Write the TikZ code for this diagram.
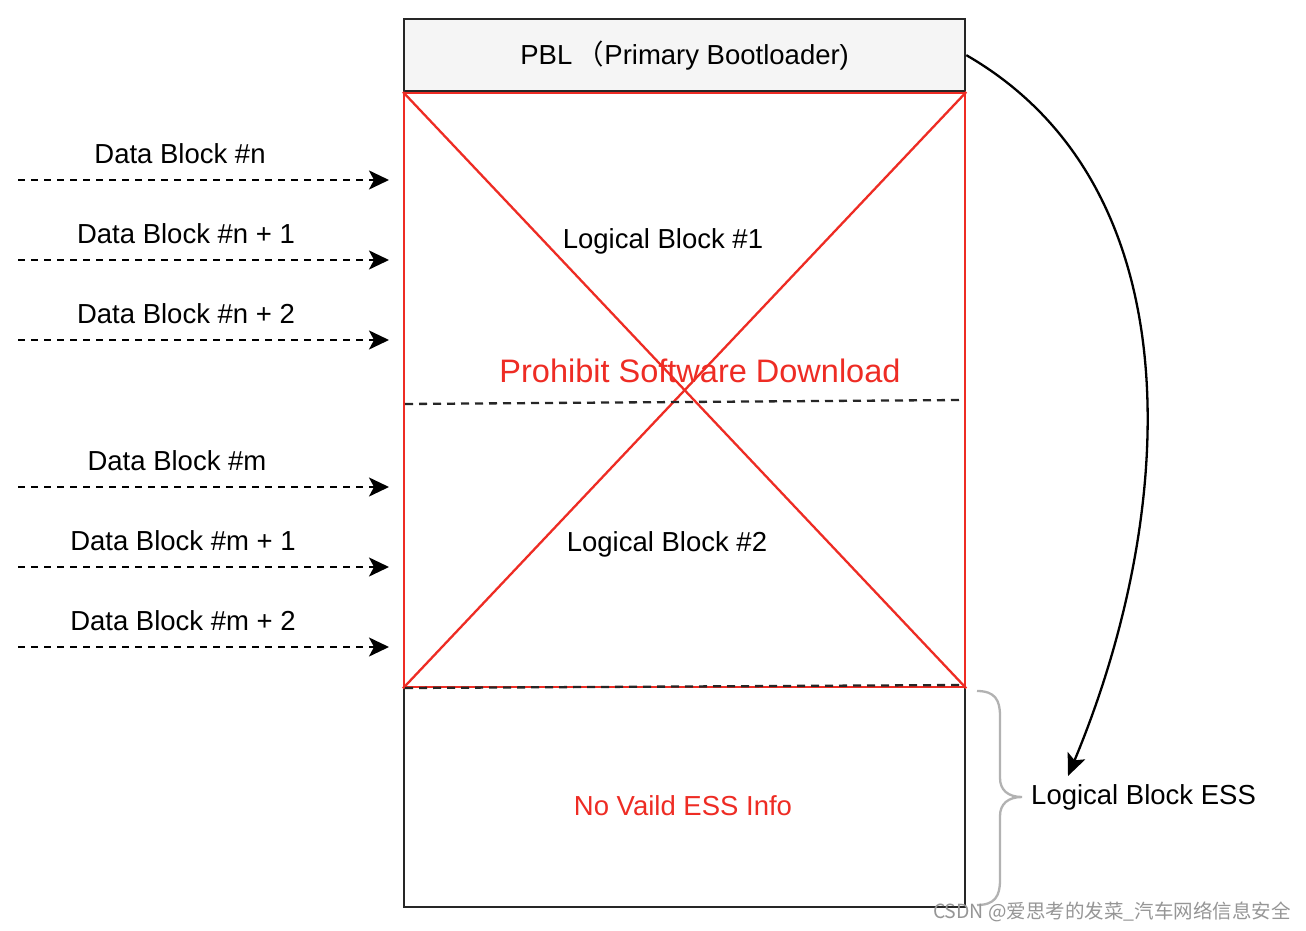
\documentclass[tikz,border=0pt]{standalone}
\usepackage{fontspec}
\setmainfont{Liberation Sans}
\newfontfamily\cjk{Noto Sans CJK SC}
\usetikzlibrary{arrows.meta}
\definecolor{xred}{RGB}{238,44,36}
\definecolor{pblfill}{RGB}{245,245,245}
\definecolor{bracegray}{RGB}{178,178,178}
\definecolor{wmgray}{RGB}{150,150,150}
\tikzset{
  lbl/.style={inner sep=0pt, font=\fontsize{27.5}{33}\selectfont},
  redlbl/.style={lbl, text=xred},
  blockline/.style={line width=2.3pt, draw=black!85},
  redline/.style={line width=2.3pt, draw=xred},
  sepline/.style={line width=2.3pt, draw=black!85, dash pattern=on 8pt off 6pt},
  feed/.style={line width=2.3pt, draw=black, dash pattern=on 7pt off 6pt,
    -{Stealth[length=20pt,width=19pt,inset=5pt]}},
  jump/.style={line width=2.3pt, draw=black,
    -{Stealth[length=22pt,width=19pt,inset=5pt]}},
}
\begin{document}
\begin{tikzpicture}[x=1pt,y=-1pt]
\useasboundingbox (0,0) rectangle (1306,931);
\fill[white] (0,0) rectangle (1306,931);

% memory layout: outer frame, PBL header, prohibited area
\node[blockline, minimum width=561pt, minimum height=888pt, anchor=north west, inner sep=0pt] (mem) at (403,18) {};
\node[blockline, fill=pblfill, minimum width=561pt, minimum height=72pt, anchor=north west, inner sep=0pt,
      font=\fontsize{27.5}{33}\selectfont] (pbl) at (403,18) {PBL\,{\cjk （}Primary Bootloader)};
\node[redline, minimum width=561pt, minimum height=594pt, anchor=north west, inner sep=0pt] (lock) at (403,92) {};
\draw[redline] (lock.north west) -- (lock.south east);
\draw[redline] (lock.south west) -- (lock.north east);

% block separators
\coordinate (s1l) at (405,404); \coordinate (s1r) at (962,400);
\coordinate (s2l) at (405,688); \coordinate (s2r) at (962,685);
\draw[sepline] (s1l) -- (s1r);
\draw[sepline] (s2l) -- (s2r);

\node[lbl] (lb1) at (663,241) {Logical Block \#1};
\node[lbl] (lb2) at (667,544) {Logical Block \#2};
\node[inner sep=0pt, text=xred, font=\fontsize{32.5}{38}\selectfont] (proh) at (700,371) {Prohibit Software Download};
\node[redlbl] (noess) at (683,806) {No Vaild ESS Info};

% incoming data blocks
\foreach \y/\t/\lx [count=\i] in {180/Data Block \#n/180, 260/Data Block \#n + 1/186, 340/Data Block \#n + 2/186,
                                  487/Data Block \#m/177, 567/Data Block \#m + 1/183, 647/Data Block \#m + 2/183}{
  \coordinate (d\i s) at (18,\y);
  \coordinate (d\i e) at (389,\y);
  \draw[feed] (d\i s) -- (d\i e);
  \node[lbl] (d\i t) at (\lx,\y-26) {\t};
}

% ESS brace and label
\node[lbl, anchor=west] (ess) at (1031,797) {Logical Block ESS};
\coordinate (bt) at (977,691);
\coordinate (bm) at (1022,797);
\coordinate (bb) at (977,905);
\draw[bracegray, line width=2.3pt] (bt) .. controls (995,691) and (1000,700) .. (1000,716) -- (1000,778)
  .. controls (1000,790) and (1008,797) .. (bm)
  .. controls (1008,797) and (1000,804) .. (1000,816) -- (1000,880)
  .. controls (1000,896) and (995,905) .. (bb);

% PBL reference into ESS
\coordinate (esstip) at (1068,776);
\draw[jump] (pbl.east) .. controls (1200,190) and (1175,520) .. (esstip);

% watermark
\node[inner sep=0pt, text=wmgray, font=\cjk\fontsize{19.5}{23}\selectfont, anchor=east] (wm) at (1291,912) {CSDN @爱思考的发菜\_汽车网络信息安全};
\end{tikzpicture}
\end{document}
